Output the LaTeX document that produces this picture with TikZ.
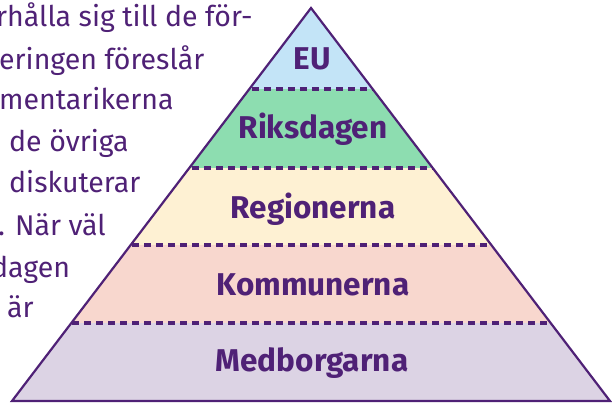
\documentclass[tikz,border=0pt]{standalone}
\usepackage{fontspec}
\setmainfont{Fira Sans}
\definecolor{lila}{HTML}{4F2176}
\definecolor{euBla}{HTML}{C3E4F7}
\definecolor{riksGron}{HTML}{8DDDB0}
\definecolor{regGul}{HTML}{FEF1D3}
\definecolor{kommRosa}{HTML}{F8D7CE}
\definecolor{medbLila}{HTML}{DCD3E4}

\tikzset{
  layerlabel/.style={text=lila,font=\fontsize{31.5}{33}\selectfont\bfseries,inner sep=0pt},
  sidetext/.style={text=lila,font=\fontsize{28.5}{30}\selectfont,inner sep=0pt,anchor=base west},
  layerline/.style={lila,line width=3.5pt,dash pattern=on 7pt off 5pt},
  pyramid/.style={lila,line width=2.2pt,line join=miter}
}

\begin{document}
\begin{tikzpicture}[x=1pt,y=-1pt]
                    \useasboundingbox (0,0) rectangle (612,403);
                    \clip (0,0) rectangle (612,403);
                    \begin{scope}
                    \clip (311,8)--(610,401)--(12,401)--cycle;
                    \fill [euBla](0,0) rectangle (612,89);
                    \fill [riksGron](0,89) rectangle (612,168);
                    \fill [regGul](0,168) rectangle (612,245);
                    \fill [kommRosa](0,245) rectangle (612,323);
                    \fill [medbLila](0,323) rectangle (612,403);
                    \foreach \y in {89,168,245,323}
                      \draw [layerline](0,\y)--(612,\y);
                    \end{scope}
                    \draw [pyramid](311,8)--(610,401)--(12,401)--cycle;
                    \node [layerlabel] (eu) at (312,59) {EU};
                    \node [layerlabel] (riksdagen) at (313,129) {Riksdagen};
                    \node [layerlabel] (regionerna) at (313,209) {Regionerna};
                    \node [layerlabel] (kommunerna) at (313,285) {Kommunerna};
                    \node [layerlabel] (medborgarna) at (312,363) {Medborgarna};
                    % text to the left, cut by the page edge
                    \node [sidetext] (rad1) at (-4,27) {rhålla sig till de för-};
                    \node [sidetext] (rad2) at (-1,70) {eringen föreslår};
                    \node [sidetext] (rad3) at (-1,110) {mentarikerna};
                    \node [sidetext] (rad4) at (9,152) {de övriga};
                    \node [sidetext] (rad5) at (9,193) {diskuterar};
                    \node [sidetext] (rad6) at (-2,235) {. När väl};
                    \node [sidetext] (rad7) at (-9,277) {dagen};
                    \node [sidetext] (rad8) at (7,317) {är};
\end{tikzpicture}
\end{document}
